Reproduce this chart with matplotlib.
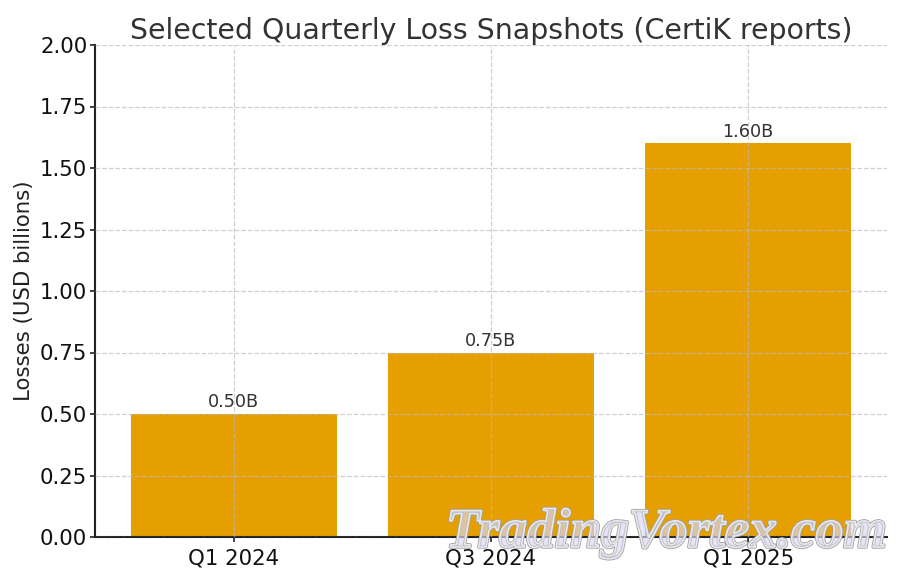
import matplotlib
matplotlib.use("Agg")
import matplotlib.pyplot as plt
import matplotlib.patheffects as pe

quarters = ["Q1 2024", "Q3 2024", "Q1 2025"]
losses = [0.50, 0.75, 1.60]
bar_labels = ["0.50B", "0.75B", "1.60B"]
yticks = [0.00, 0.25, 0.50, 0.75, 1.00, 1.25, 1.50, 1.75, 2.00]

fig = plt.figure(figsize=(9, 5.77), dpi=100)
ax = fig.add_axes([95 / 900, 1 - 537 / 577, 792 / 900, 492 / 577])

bars = ax.bar(quarters, losses, width=0.8, color="#E69F00", zorder=2)
ax.set_ylim(0, 2)
ax.set_yticks(yticks)
ax.set_yticklabels([f"{t:.2f}" for t in yticks])
ax.grid(True, linestyle="--", color="#bbbbbb", linewidth=0.9, alpha=0.7, zorder=3)
ax.set_axisbelow(False)

for bar, lab in zip(bars, bar_labels):
    ax.annotate(lab, (bar.get_x() + bar.get_width() / 2, bar.get_height()),
                xytext=(0, 2), textcoords="offset points", ha="center", va="bottom",
                fontsize=12.7, color="#333333")

ax.set_title("Selected Quarterly Loss Snapshots (CertiK reports)", fontsize=20.4, color="#333333", pad=4)
ax.set_ylabel("Losses (USD billions)", fontsize=15.3, color="#222222", labelpad=4)
ax.tick_params(axis="both", labelsize=15.3, length=3.5, width=1.2, color="#222222", labelcolor="#111111")
ax.tick_params(axis="y", pad=2)
ax.tick_params(axis="x", pad=5)

ax.spines["top"].set_visible(False)
ax.spines["right"].set_visible(False)
ax.spines["left"].set_linewidth(1.5)
ax.spines["bottom"].set_linewidth(1.5)
ax.spines["left"].set_color("#222222")
ax.spines["bottom"].set_color("#222222")

# watermark in the bottom right corner, mostly see-through fill with a grey outline
wm = fig.text(666 / 900, 1 - 533 / 577, "TradingVortex.com", ha="center", va="center",
              family="Liberation Serif", style="italic", weight="bold", fontsize=40,
              color=(0.85, 0.85, 0.95, 0.3), zorder=10)
wm.set_path_effects([pe.Stroke(linewidth=2.4, foreground="#a0a0a0"),
                     pe.Stroke(linewidth=1.2, foreground="#ececec"),
                     pe.Normal()])

fig.savefig("out.png", dpi=100)
